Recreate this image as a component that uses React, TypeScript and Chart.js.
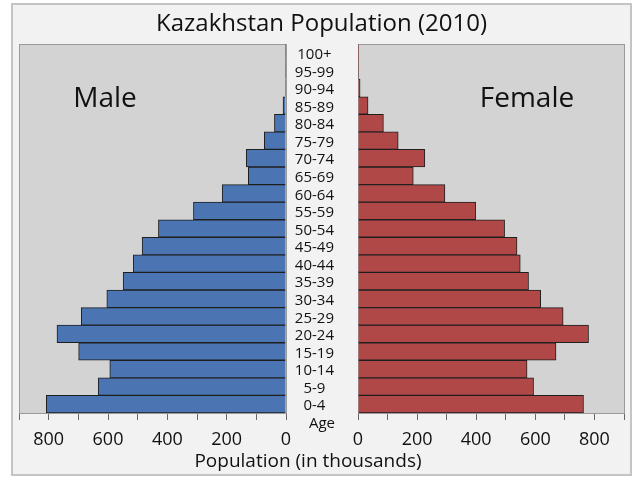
import React, { useEffect, useRef } from 'react';
import { Chart, registerables } from 'chart.js';

Chart.register(...registerables);

const ageGroups = ['0-4', '5-9', '10-14', '15-19', '20-24', '25-29', '30-34', '35-39', '40-44', '45-49', '50-54', '55-59', '60-64', '65-69', '70-74', '75-79', '80-84', '85-89', '90-94', '95-99', '100+'];
const maleValues = [808, 633, 594, 699, 772, 690, 604, 549, 515, 485, 430, 312, 215, 127, 134, 73, 39, 10, 2, 0.5, 0.2];
const femaleValues = [763, 594, 572, 670, 780, 694, 618, 577, 549, 538, 496, 398, 294, 187, 226, 136, 86, 34, 7, 2, 0.3];
const axisMax = 900;
const axisStep = 100;
const labelStep = 200;

const FONT = '"Open Sans", "Noto Sans", sans-serif';

const panelPlugin = {
  id: 'panelBg',
  beforeDatasetsDraw(chart: any) {
    const { ctx, chartArea } = chart;
    ctx.save();
    ctx.fillStyle = '#d3d3d3';
    ctx.fillRect(chartArea.left, chartArea.top, chartArea.right - chartArea.left, chartArea.bottom - chartArea.top);
    ctx.strokeStyle = '#9a9a9a';
    ctx.lineWidth = 1;
    ctx.strokeRect(Math.round(chartArea.left) + 0.5, Math.round(chartArea.top) + 0.5, Math.round(chartArea.right - chartArea.left), Math.round(chartArea.bottom - chartArea.top));
    ctx.restore();
  },
};

function xScale(reverse: boolean) {
  return {
    type: 'linear',
    reverse,
    min: 0,
    max: axisMax,
    position: 'bottom',
    ticks: {
      stepSize: axisStep,
      autoSkip: false,
      maxRotation: 0,
      callback: (v: any) => (v % labelStep === 0 ? String(v) : ''),
      font: { family: FONT, size: 18 },
      color: '#111',
      padding: 9,
    },
    grid: { drawOnChartArea: false, drawTicks: true, tickLength: 7, color: '#666' },
    border: { display: true, color: '#9a9a9a' },
    afterFit: (s: any) => {
      s.height = 67;
    },
  };
}

export default function App() {
  const maleRef = useRef<HTMLCanvasElement>(null);
  const femaleRef = useRef<HTMLCanvasElement>(null);

  useEffect(() => {
    const male = new Chart(maleRef.current as HTMLCanvasElement, {
      type: 'bar',
      data: {
        labels: ageGroups,
        datasets: [
          {
            data: maleValues,
            backgroundColor: '#4a74b2',
            borderColor: '#1f1f1f',
            borderWidth: 1,
            categoryPercentage: 1,
            barPercentage: 1,
          },
        ],
      },
      plugins: [panelPlugin],
      options: {
        indexAxis: 'y',
        animation: false,
        responsive: false,
        maintainAspectRatio: false,
        layout: { padding: { left: 19, right: 354, top: 44, bottom: 0 } },
        plugins: { legend: { display: false }, tooltip: { enabled: false }, title: { display: false } },
        scales: {
          x: xScale(true) as any,
          y: {
            reverse: true,
            position: 'right',
            grid: { display: false },
            ticks: { display: false },
            border: { display: true, color: '#111' },
            afterFit: (s: any) => {
              s.width = 0;
            },
          },
        },
      },
    });
    const female = new Chart(femaleRef.current as HTMLCanvasElement, {
      type: 'bar',
      data: {
        labels: ageGroups,
        datasets: [
          {
            data: femaleValues,
            backgroundColor: '#b04848',
            borderColor: '#1f1f1f',
            borderWidth: 1,
            categoryPercentage: 1,
            barPercentage: 1,
          },
        ],
      },
      plugins: [panelPlugin],
      options: {
        indexAxis: 'y',
        animation: false,
        responsive: false,
        maintainAspectRatio: false,
        layout: { padding: { left: 286, right: 16, top: 44, bottom: 0 } },
        plugins: { legend: { display: false }, tooltip: { enabled: false }, title: { display: false } },
        scales: {
          x: xScale(false) as any,
          y: {
            reverse: true,
            position: 'left',
            grid: { display: false },
            ticks: {
              autoSkip: false,
              crossAlign: 'center',
              padding: 16,
              labelOffset: 2,
              font: { family: FONT, size: 15 },
              color: '#111',
            },
            border: { display: true, color: '#222' },
            afterFit: (s: any) => {
              s.width = 72;
            },
          },
        },
      },
    });
    return () => {
      male.destroy();
      female.destroy();
    };
  }, []);

  const text = (content: string, cx: number, top: number, size: number): React.ReactNode => (
    <div
      style={{
        position: 'absolute',
        left: cx,
        top,
        transform: 'translateX(-50%)',
        fontFamily: FONT,
        fontSize: size,
        lineHeight: `${size}px`,
        whiteSpace: 'nowrap',
        color: '#111',
      }}
    >
      {content}
    </div>
  );

  return (
    <div style={{ position: 'fixed', left: 0, top: 0, width: 640, height: 480, background: '#fff', overflow: 'hidden' }}>
      <div
        style={{
          position: 'absolute',
          left: 11,
          top: 3,
          width: 621,
          height: 473,
          boxSizing: 'border-box',
          border: '2px solid #c4c4c4',
          background: '#f2f2f2',
        }}
      />
      <canvas ref={maleRef} width={640} height={480} style={{ position: 'absolute', left: 0, top: 0 }} />
      <canvas ref={femaleRef} width={640} height={480} style={{ position: 'absolute', left: 0, top: 0 }} />
      {text('Kazakhstan Population (2010)', 321.5, 10, 24)}
      {text('Male', 105, 81.8, 28)}
      {text('Female', 527, 81.8, 28)}
      {text('Age', 322, 415, 15)}
      {text('Population (in thousands)', 308, 451.4, 19)}
    </div>
  );
}
